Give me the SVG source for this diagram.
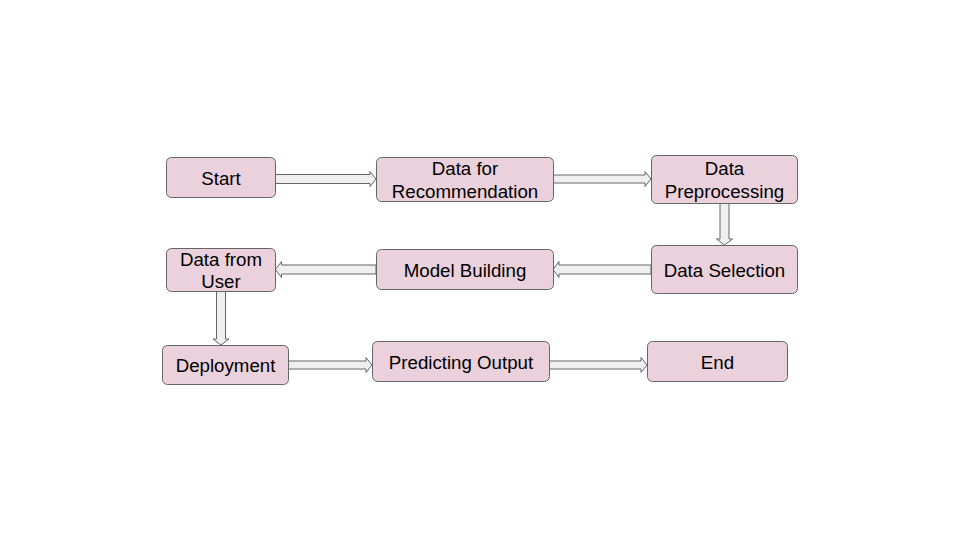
<svg xmlns="http://www.w3.org/2000/svg" width="960" height="540" viewBox="0 0 960 540">
<style>
.n rect{fill:#ead1dc;stroke:#666;stroke-width:1}
.n text{font-family:"Liberation Sans",Arial,sans-serif;font-size:18.7px;fill:#000;text-anchor:middle}
.c path{fill:#efefef;stroke:#666;stroke-width:1}
</style>
<rect width="960" height="540" fill="#fff"/>
<g class="c" id="connectors">
<path d="M275.5,174.5 H370 V171.5 L376,179 L370,186.5 V183.5 H275.5 Z"/>
<path d="M553.5,175 H645 V171.5 L651,179 L645,186.5 V183 H553.5 Z"/>
<path d="M720,203.5 V239 H716.5 L724.5,245 L732.5,239 H729 V203.5 Z"/>
<path d="M651,265 H559 V261.5 L553,269.5 L559,277.5 V274 H651 Z"/>
<path d="M376,265 H281.5 V261.5 L275.5,269.5 L281.5,277.5 V274 H376 Z"/>
<path d="M216.5,291.5 V339 H213 L221,345 L229,339 H225.5 V291.5 Z"/>
<path d="M288.5,361 H366 V357.5 L372,365 L366,372.5 V369 H288.5 Z"/>
<path d="M549.5,361 H641 V357.5 L647,365 L641,372.5 V369 H549.5 Z"/>
</g>
<g class="n" id="start"><rect x="166.5" y="157.5" width="109" height="40" rx="5"/><text x="221" y="185">Start</text></g>
<g class="n" id="data-rec"><rect x="376.5" y="157.5" width="177" height="44" rx="5"/><text x="465" y="175">Data for</text><text x="465" y="197.5">Recommendation</text></g>
<g class="n" id="data-pre"><rect x="651.5" y="155.5" width="146" height="48" rx="5"/><text x="724.5" y="175">Data</text><text x="724.5" y="197.5">Preprocessing</text></g>
<g class="n" id="data-sel"><rect x="651.5" y="245.5" width="146" height="48" rx="5"/><text x="724.5" y="276.5">Data Selection</text></g>
<g class="n" id="model"><rect x="376.5" y="249.5" width="177" height="40" rx="5"/><text x="465" y="276.5">Model Building</text></g>
<g class="n" id="data-user"><rect x="166.5" y="248.5" width="109" height="43" rx="5"/><text x="221" y="265.5">Data from</text><text x="221" y="288">User</text></g>
<g class="n" id="deploy"><rect x="162.5" y="345.5" width="126" height="39" rx="5"/><text x="225.5" y="372">Deployment</text></g>
<g class="n" id="predict"><rect x="372.5" y="341.5" width="177" height="40" rx="5"/><text x="461" y="368.5">Predicting Output</text></g>
<g class="n" id="end"><rect x="647.5" y="341.5" width="140" height="40" rx="5"/><text x="717.5" y="368.5">End</text></g>
</svg>
